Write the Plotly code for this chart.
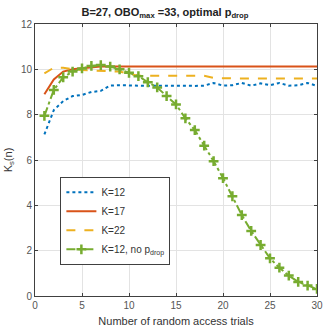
import plotly.graph_objects as go

n = list(range(1, 31))
k12 = [7.13, 8.2, 8.6, 8.82, 8.87, 9.0, 9.05, 9.28, 9.3, 9.28, 9.27, 9.27, 9.28, 9.27, 9.28,
       9.27, 9.27, 9.28, 9.4, 9.28, 9.3, 9.4, 9.28, 9.38, 9.3, 9.4, 9.28, 9.3, 9.4, 9.27]
k17 = [8.9, 9.55, 9.9, 10.0, 10.05, 10.1, 10.12, 10.12, 10.12, 10.12, 10.12, 10.12, 10.12, 10.12, 10.12,
       10.12, 10.12, 10.12, 10.12, 10.12, 10.12, 10.12, 10.12, 10.12, 10.12, 10.12, 10.12, 10.12, 10.12, 10.12]
k22 = [9.82, 10.07, 10.07, 10.0, 9.97, 9.95, 9.92, 9.92, 9.9, 9.8, 9.72, 9.72, 9.72, 9.72, 9.72,
       9.72, 9.72, 9.72, 9.62, 9.6, 9.6, 9.6, 9.6, 9.6, 9.6, 9.6, 9.6, 9.6, 9.6, 9.6]
k12_nodrop = [7.95, 9.09, 9.65, 9.9, 10.04, 10.15, 10.19, 10.12, 10.0, 9.85, 9.7, 9.43, 9.2, 8.82, 8.45,
              7.84, 7.32, 6.63, 5.95, 5.2, 4.4, 3.57, 2.87, 2.25, 1.66, 1.25, 0.9, 0.62, 0.46, 0.31]

series_names = ["K=12", "K=17", "K=22", "K=12, no p<sub>drop</sub>"]

fig = go.Figure()
fig.add_trace(go.Scatter(x=n, y=k12, mode="lines", name=series_names[0],
                         line=dict(color="#0072BD", width=2, dash="dot")))
fig.add_trace(go.Scatter(x=n, y=k17, mode="lines", name=series_names[1],
                         line=dict(color="#D95319", width=2)))
fig.add_trace(go.Scatter(x=n, y=k22, mode="lines", name=series_names[2],
                         line=dict(color="#EDB120", width=2, dash="dash")))
fig.add_trace(go.Scatter(x=n, y=k12_nodrop, mode="lines+markers", name=series_names[3],
                         line=dict(color="#77AC30", width=2, dash="dashdot"),
                         marker=dict(symbol="cross-thin", size=7,
                                     line=dict(color="#77AC30", width=2.5))))

axis_common = dict(showline=True, linecolor="#404040", linewidth=1, mirror="ticks",
                   ticks="inside", ticklen=3, tickcolor="#404040",
                   showgrid=True, gridcolor="#e3e3e3", gridwidth=1, zeroline=False,
                   tickfont=dict(family="Liberation Sans, Arial", size=10, color="#555555"))

fig.update_layout(
    width=330, height=333,
    margin=dict(l=33, r=7, t=24, b=37),
    paper_bgcolor="white", plot_bgcolor="white",
    title=dict(text="<b>B=27, OBO<sub>max</sub> =33, optimal p<sub>drop</sub></b>",
               x=0.5, xanchor="center", y=0.975, yanchor="top",
               font=dict(family="Liberation Sans, Arial", size=11, color="#222222")),
    xaxis=dict(range=[0, 30], dtick=5,
               title=dict(text="Number of random access trials", standoff=7,
                          font=dict(family="Liberation Sans, Arial", size=11, color="#333333")),
               **axis_common),
    yaxis=dict(range=[0, 12], dtick=2,
               title=dict(text="K<sub>s</sub>(n)", standoff=6,
                          font=dict(family="Liberation Sans, Arial", size=11, color="#333333")),
               **axis_common),
    legend=dict(x=0.09, y=0.438, xanchor="left", yanchor="top",
                bgcolor="white", bordercolor="#404040", borderwidth=1,
                font=dict(family="Liberation Sans, Arial", size=10, color="#333333"),
                tracegroupgap=0, itemwidth=30),
    showlegend=True,
)

fig.write_html("out.html")
